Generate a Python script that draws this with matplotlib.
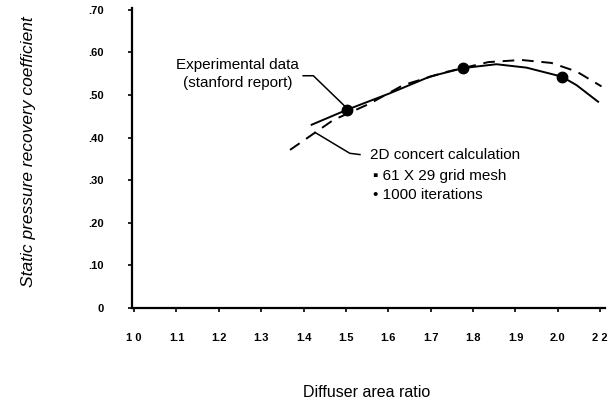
import matplotlib.pyplot as plt

plt.rcParams['font.family'] = ['Liberation Sans', 'DejaVu Sans']

# x tick positions and the labels as printed on the chart
tick_pos = [1.0, 1.1, 1.2, 1.3, 1.4, 1.5, 1.6, 1.7, 1.8, 1.9, 2.0, 2.1]
tick_labels = ['1 0', '1.1', '1.2', '1.3', '1.4', '1.5', '1.6', '1.7', '1.8', '1.9', '2.0', '2 2']
ytick_pos = [0, 0.1, 0.2, 0.3, 0.4, 0.5, 0.6, 0.7]
ytick_labels = ['0', '.10', '.20', '.30', '.40', '.50', '.60', '.70']

# experimental curve (solid) and data points
exp_x = [1.419, 1.502, 1.604, 1.698, 1.777, 1.855, 1.926, 2.009, 2.044, 2.095]
exp_y = [0.430, 0.465, 0.504, 0.543, 0.563, 0.572, 0.564, 0.543, 0.523, 0.484]
pts_x = [1.502, 1.777, 2.009]
pts_y = [0.465, 0.563, 0.543]

# 2D calculation (dashed)
calc_x = [1.368, 1.470, 1.557, 1.635, 1.733, 1.836, 1.914, 1.985, 2.044, 2.103]
calc_y = [0.371, 0.441, 0.480, 0.523, 0.553, 0.577, 0.582, 0.575, 0.555, 0.520]

fig = plt.figure(figsize=(6.11, 4.11), dpi=100)
ax = fig.add_axes([0.216, 0.2506, 0.774, 0.73])

ax.plot(exp_x, exp_y, color='black', linewidth=1.4)
ax.plot(calc_x, calc_y, color='black', linewidth=1.4, linestyle=(0, (6, 4)))
ax.plot(pts_x, pts_y, 'o', color='black', markersize=7.5)

ax.set_xlim(0.995, 2.111)
ax.set_ylim(0, 0.704)
ax.set_xticks(tick_pos)
ax.set_xticklabels(tick_labels)
ax.set_yticks(ytick_pos)
ax.set_yticklabels(ytick_labels)
ax.tick_params(axis='x', direction='out', length=3, width=1.2, pad=15, labelsize=8)
ax.tick_params(axis='y', direction='out', length=3, width=1.2, pad=17, labelsize=8)
for lab in ax.get_xticklabels() + ax.get_yticklabels():
    lab.set_fontweight('bold')

for s in ['top', 'right']:
    ax.spines[s].set_visible(False)
for s in ['left', 'bottom']:
    ax.spines[s].set_linewidth(1.6)

# leader lines
ax.plot([1.399, 1.423, 1.502], [0.545, 0.545, 0.469], color='black', linewidth=1.1)
ax.plot([1.427, 1.509, 1.533], [0.412, 0.363, 0.360], color='black', linewidth=1.1)

ax.text(1.245, 0.549, 'Experimental data\n(stanford report)', ha='center', va='center',
        fontsize=11, linespacing=1.3)
ax.text(1.557, 0.359, '2D concert calculation', ha='left', va='center', fontsize=11)
ax.text(1.564, 0.310, '\u25aa 61 X 29 grid mesh', ha='left', va='center', fontsize=11)
ax.text(1.564, 0.265, '\u2022 1000 iterations', ha='left', va='center', fontsize=11)

fig.text(0.046, 0.63, 'Static pressure recovery coefficient', rotation=90,
         ha='center', va='center', fontsize=12.5, style='italic')
fig.text(0.60, 0.046, 'Diffuser area ratio', ha='center', va='center', fontsize=11.5)

fig.savefig('out.png', dpi=100)
